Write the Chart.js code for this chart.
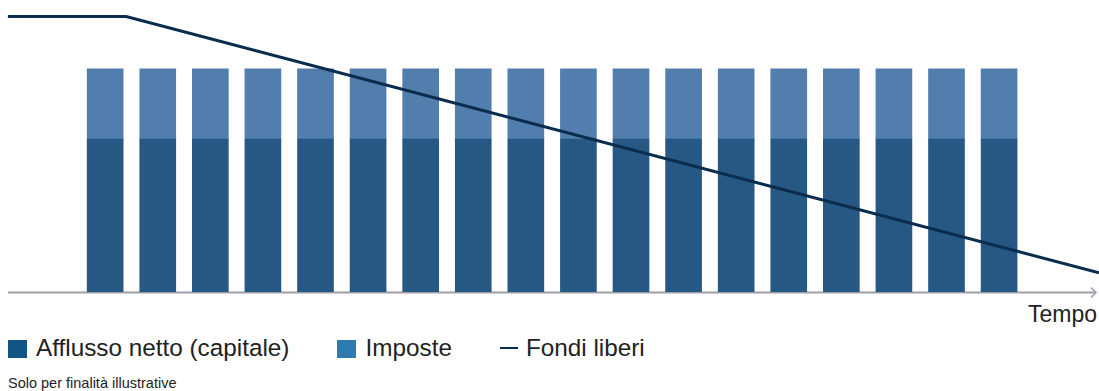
<!DOCTYPE html>
<html>
<head>
<meta charset="utf-8">
<script src="https://cdn.jsdelivr.net/npm/chart.js@4"></script>
<style>
  body { margin: 0; background: #fff; font-family: "Liberation Sans", Arial, sans-serif; color: #222; }
  #wrap { position: absolute; left: 0; top: 0; width: 1099px; height: 300px; }
  #tempo { position: absolute; right: 2px; top: 303px; font-size: 23px; line-height: 23px; }
  #legend { position: absolute; left: 8px; top: 336px; display: flex; font-size: 24.3px; line-height: 24px; }
  .item { display: flex; align-items: center; margin-right: 48px; }
  .sq { width: 19px; height: 18px; margin-right: 9px; margin-top: 2px; }
  .dash { width: 18px; height: 2px; margin-right: 8px; }
  #note { position: absolute; left: 8px; top: 376px; font-size: 14.5px; line-height: 14px; }
</style>
</head>
<body>
<div id="wrap"><canvas id="myChart"></canvas></div>
<div id="tempo">Tempo</div>
<div id="legend"></div>
<div id="note">Solo per finalità illustrative</div>
<script>
var periods = [1, 2, 3, 4, 5, 6, 7, 8, 9, 10, 11, 12, 13, 14, 15, 16, 17, 18];
var capitale = [55.5, 55.5, 55.5, 55.5, 55.5, 55.5, 55.5, 55.5, 55.5, 55.5, 55.5, 55.5, 55.5, 55.5, 55.5, 55.5, 55.5, 55.5];
var imposte = [25.5, 25.5, 25.5, 25.5, 25.5, 25.5, 25.5, 25.5, 25.5, 25.5, 25.5, 25.5, 25.5, 25.5, 25.5, 25.5, 25.5, 25.5];
var fondiX = [-0.85, 1.4, 19.9];
var fondiY = [100, 100, 7];
var seriesNames = ["Afflusso netto (capitale)", "Imposte", "Fondi liberi"];
var legendColors = ['#125585', '#2f7ab0', '#0a2d4f'];

function pts(xs, ys) {
    return xs.map(function (x, i) { return { x: x, y: ys[i] }; });
}

var axisArrow = {
    id: 'axisArrow',
    beforeDatasetsDraw: function (chart) {
        var ctx = chart.ctx;
        var y = chart.scales.y.getPixelForValue(0) + 0.5;
        ctx.save();
        ctx.strokeStyle = '#a09dab';
        ctx.lineWidth = 2;
        ctx.beginPath();
        ctx.moveTo(8, y);
        ctx.lineTo(1095, y);
        ctx.stroke();
        ctx.lineWidth = 1.5;
        ctx.beginPath();
        ctx.moveTo(1091, y - 5);
        ctx.lineTo(1096, y);
        ctx.lineTo(1091, y + 5);
        ctx.stroke();
        ctx.restore();
    }
};

var ctx = document.getElementById("myChart");
var config = {
    type: 'bar',
    data: {
        datasets: [{
            type: 'line',
            label: seriesNames[2],
            data: pts(fondiX, fondiY),
            borderColor: '#0a2d4f',
            borderWidth: 3,
            pointRadius: 0,
            tension: 0,
            stack: 'line',
            order: 0
        }, {
            label: seriesNames[0],
            data: pts(periods, capitale),
            backgroundColor: '#275883',
            barThickness: 36,
            stack: 'bars',
            order: 1
        }, {
            label: seriesNames[1],
            data: pts(periods, imposte),
            backgroundColor: '#517ead',
            barThickness: 36,
            stack: 'bars',
            order: 1
        }]
    },
    options: {
        responsive: true,
        maintainAspectRatio: false,
        animation: false,
        layout: { padding: { bottom: 8 } },
        plugins: {
            legend: { display: false },
            tooltip: { enabled: false }
        },
        scales: {
            x: { type: 'linear', min: -1, max: 19.9, offset: false, stacked: true, display: false },
            y: { min: 0, max: 106, stacked: true, display: false }
        }
    },
    plugins: [axisArrow]
};

var myChart = new Chart(ctx, config);

var legend = document.getElementById('legend');
seriesNames.forEach(function (name, i) {
    var item = document.createElement('div');
    item.className = 'item';
    var mark = document.createElement('span');
    mark.className = i < 2 ? 'sq' : 'dash';
    mark.style.background = legendColors[i];
    item.appendChild(mark);
    item.appendChild(document.createTextNode(name));
    legend.appendChild(item);
});
</script>
</body>
</html>
